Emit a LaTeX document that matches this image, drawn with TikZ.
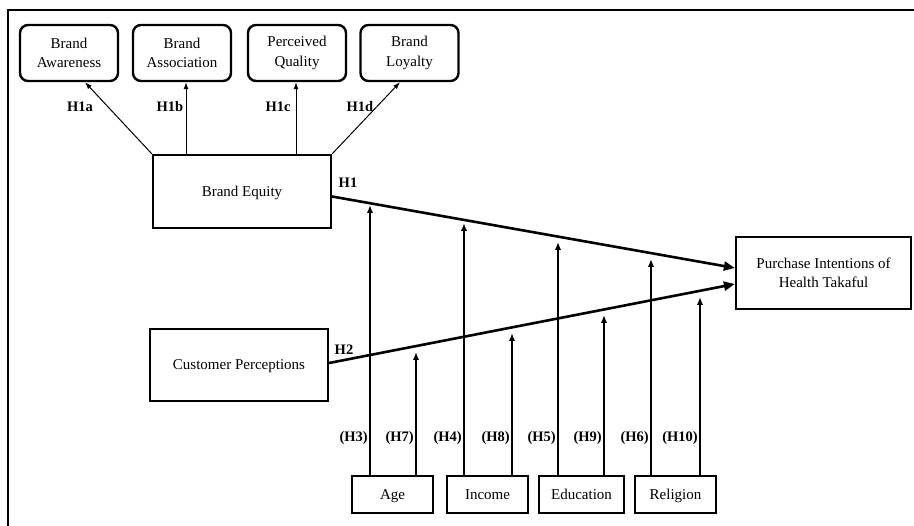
\documentclass[tikz,border=0pt]{standalone}
\usepackage{fontspec}
\setmainfont{Liberation Serif}
\usetikzlibrary{arrows.meta,positioning}
\begin{document}
\begin{tikzpicture}[x=1pt,y=-1pt,
  every node/.style={font=\fontsize{15}{19.5}\selectfont},
  topbox/.style={draw,line width=2.4pt,rounded corners=8pt,minimum width=98pt,minimum height=56pt,align=center,inner sep=0pt},
  sqbox/.style={draw,line width=2.2pt,align=center,inner sep=0pt},
  onebox/.style={sqbox,text height=10pt,text depth=0pt},
  lab/.style={font=\fontsize{14.5}{16}\selectfont\bfseries,inner sep=0pt},
  thinarr/.style={-{Latex[length=7pt,width=5pt]},line width=1pt},
  mainarr/.style={-{Stealth[length=11pt,width=9pt,inset=0pt]},line width=2.6pt},
  modarr/.style={-{Latex[length=8pt,width=6.5pt]},line width=2.2pt}]
\useasboundingbox (0,0) rectangle (914,526);
\draw[line width=2.2pt] (8,526) -- (8,10) -- (914,10);
% top boxes
\node[topbox] (BA) at (69,53) {Brand\\Awareness};
\node[topbox] (BS) at (182,53) {Brand\\Association};
\node[topbox] (PQ) at (297,53) {Perceived\\Quality};
\node[topbox] (BL) at (409.5,53) {Brand\\Loyalty};
% main boxes
\node[onebox,minimum width=178pt,minimum height=73pt] (BE) at (242,191.5) {Brand Equity};
\node[onebox,minimum width=178pt,minimum height=72pt] (CP) at (239,365) {Customer Perceptions};
\node[sqbox,minimum width=175pt,minimum height=72pt] (PI) at (823.5,273) {Purchase Intentions of\\Health Takaful};
\node[onebox,minimum width=81pt,minimum height=37pt] (AG) at (392.5,494.5) {Age};
\node[onebox,minimum width=81pt,minimum height=37pt] (IN) at (487.5,494.5) {Income};
\node[onebox,minimum width=85pt,minimum height=37pt] (ED) at (581.5,494.5) {Education};
\node[onebox,minimum width=81pt,minimum height=37pt] (RE) at (675.5,494.5) {Religion};
% top arrows
\draw[thinarr] (BE.north west) -- ([xshift=16pt]BA.south);
\draw[thinarr] ([xshift=-56pt]BE.north) -- ([xshift=4pt]BS.south);
\draw[thinarr] ([xshift=54pt]BE.north) -- ([xshift=-1pt]PQ.south);
\draw[thinarr] (BE.north east) -- ([xshift=-9.5pt]BL.south);
\node[lab] (l1a) at (80,107) {H1a};
\node[lab] (l1b) at (170,107) {H1b};
\node[lab] (l1c) at (278,107) {H1c};
\node[lab] (l1d) at (360,107) {H1d};
% main arrows
\draw[mainarr] ([yshift=-5pt]BE.east) -- ([yshift=5pt]PI.west);
\draw[mainarr] ([yshift=2pt]CP.east) -- ([yshift=-11pt]PI.west);
\node[lab] (l1) at (348,183) {H1};
\node[lab] (l2) at (344,350) {H2};
% moderator tips
\coordinate (t3) at (370,205);
\coordinate (t7) at (416,352);
\coordinate (t4) at (464,223);
\coordinate (t8) at (512,333);
\coordinate (t5) at (558,242);
\coordinate (t9) at (604,315);
\coordinate (t6) at (651,259);
\coordinate (t10) at (700,297);
\draw[modarr] (AG.north -| t3) -- (t3);
\draw[modarr] (AG.north -| t7) -- (t7);
\draw[modarr] (IN.north -| t4) -- (t4);
\draw[modarr] (IN.north -| t8) -- (t8);
\draw[modarr] (ED.north -| t5) -- (t5);
\draw[modarr] (ED.north -| t9) -- (t9);
\draw[modarr] (RE.north -| t6) -- (t6);
\draw[modarr] (RE.north -| t10) -- (t10);
\node[lab,anchor=east] (h3) at (368,438) {(H3)};
\node[lab,anchor=east] (h7) at (414,438) {(H7)};
\node[lab,anchor=east] (h4) at (462,438) {(H4)};
\node[lab,anchor=east] (h8) at (510,438) {(H8)};
\node[lab,anchor=east] (h5) at (556,438) {(H5)};
\node[lab,anchor=east] (h9) at (602,438) {(H9)};
\node[lab,anchor=east] (h6) at (649,438) {(H6)};
\node[lab,anchor=east] (h10) at (698,438) {(H10)};
\end{tikzpicture}
\end{document}
